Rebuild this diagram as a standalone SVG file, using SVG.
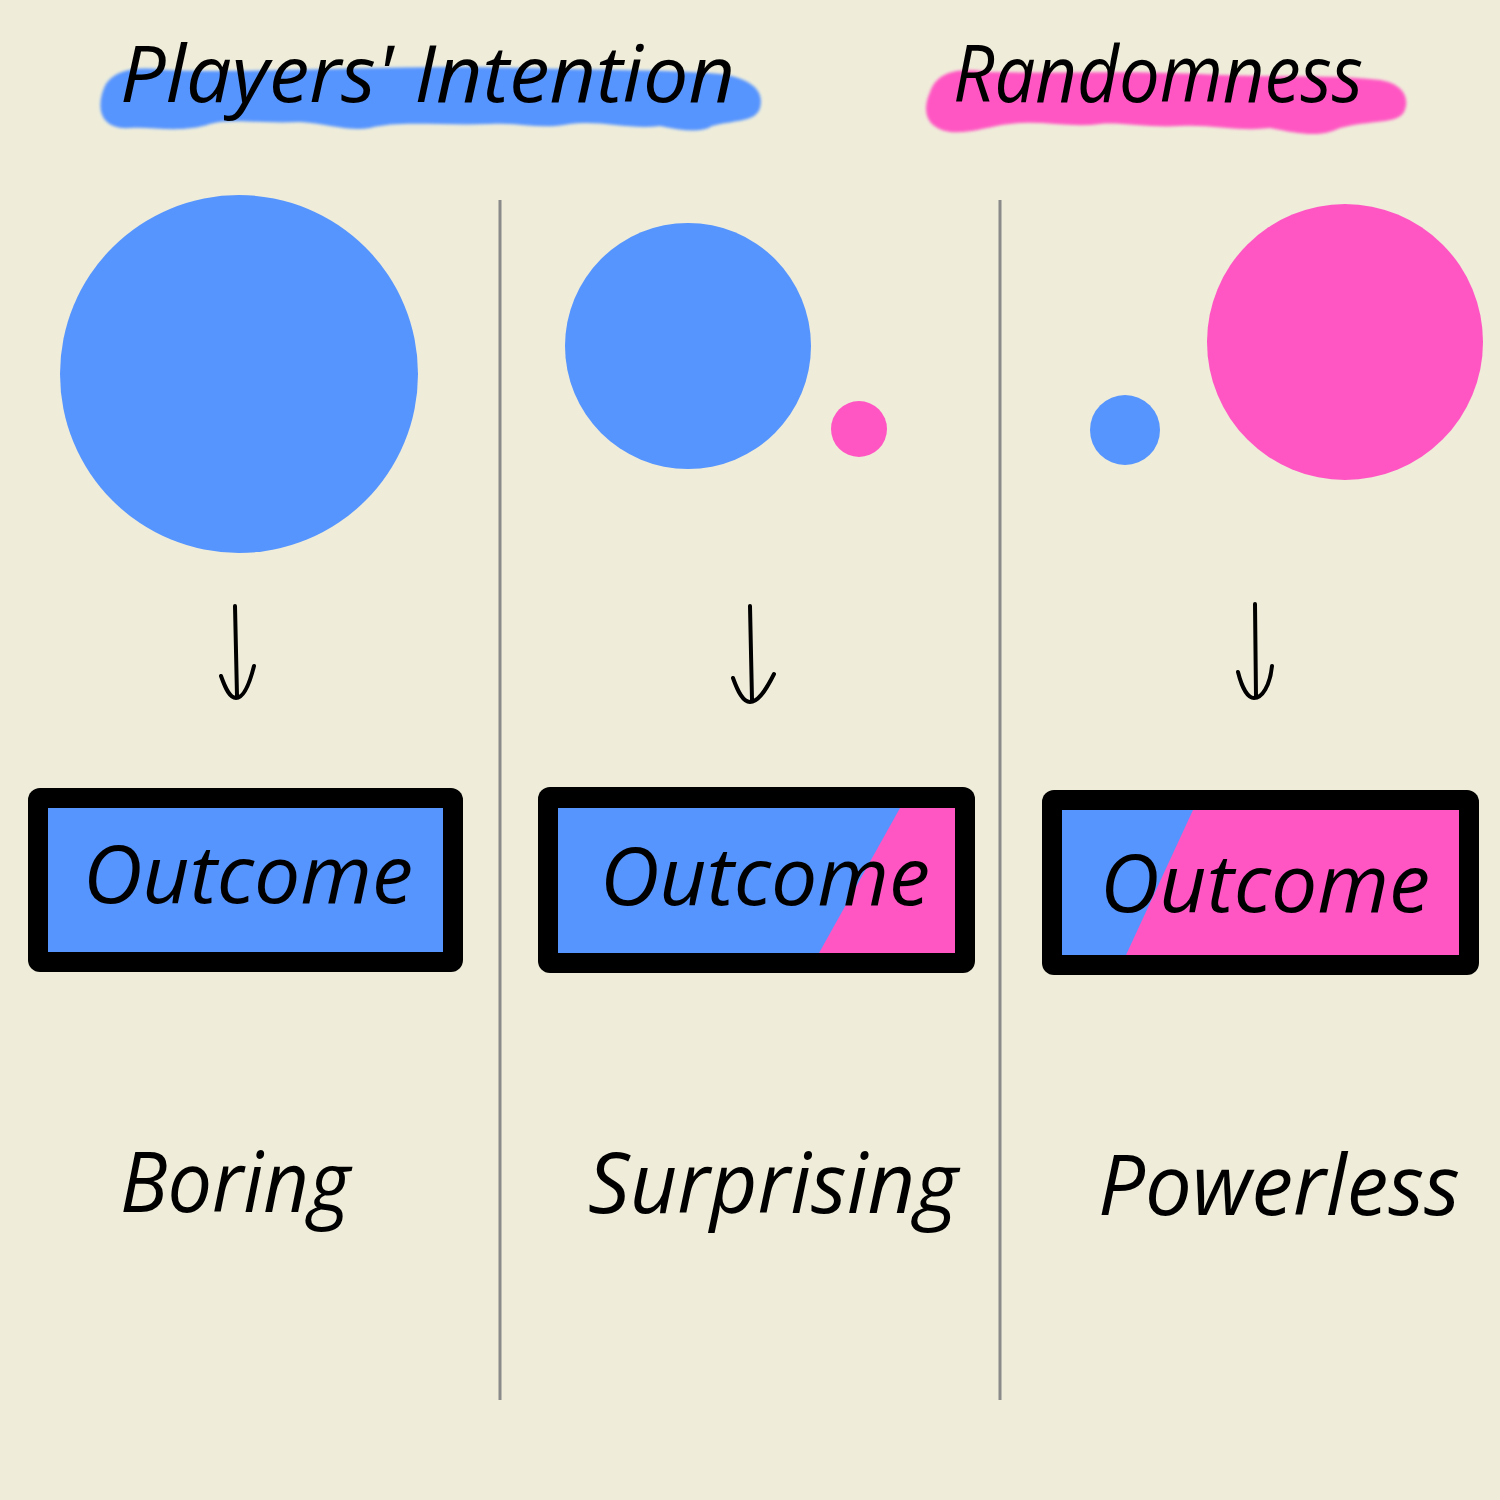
<svg xmlns="http://www.w3.org/2000/svg" width="1500" height="1500" viewBox="0 0 1500 1500">
<style>
.t{font-family:"Open Sans","DejaVu Sans",sans-serif;font-style:italic;fill:#000}
.blue{fill:#5694FE}
.pink{fill:#FF56C3}
.div{stroke:#8a8a8a;stroke-width:3;fill:none}
.arr{stroke:#000;stroke-width:4;fill:none;stroke-linecap:round;stroke-linejoin:round}
</style>
<defs>
<filter id="soft" x="-5%" y="-20%" width="110%" height="140%"><feGaussianBlur stdDeviation="1.5"/></filter>
</defs>
<rect width="1500" height="1500" fill="#EFEDDA"/>
<g id="heading-intention">
<path class="blue" filter="url(#soft)" d="M104,88 C112,70 135,66 165,70 C260,74 400,64 520,68 C600,70 680,70 720,74 C750,78 765,90 760,108 C756,122 735,120 712,126 C700,134 680,130 660,126 C630,130 600,120 570,124 C540,130 520,122 490,124 C440,126 400,120 370,128 C350,132 330,124 300,122 C260,124 230,118 210,124 C180,134 150,126 130,128 C100,130 96,108 104,88 Z"/>
<text class="t" x="120" y="102" font-size="78" textLength="615" lengthAdjust="spacingAndGlyphs">Players' Intention</text>
</g>
<g id="heading-randomness">
<path class="pink" filter="url(#soft)" d="M930,92 C938,70 960,68 990,72 C1060,74 1120,70 1200,74 C1270,78 1330,74 1380,80 C1405,84 1410,100 1404,112 C1398,124 1370,120 1340,128 C1320,138 1300,134 1270,128 C1240,132 1210,124 1180,126 C1150,128 1120,122 1100,124 C1070,128 1040,120 1010,124 C990,126 970,134 950,132 C925,128 922,110 930,92 Z"/>
<text class="t" x="953" y="102" font-size="78" textLength="410" lengthAdjust="spacingAndGlyphs">Randomness</text>
</g>
<g id="dividers">
<line class="div" x1="500" y1="200" x2="500" y2="1400"/>
<line class="div" x1="1000" y1="200" x2="1000" y2="1400"/>
</g>
<g id="circles-boring">
<circle class="blue" cx="239" cy="374" r="179"/>
</g>
<g id="circles-surprising">
<circle class="blue" cx="688" cy="346" r="123"/>
<circle class="pink" cx="859" cy="429" r="28"/>
</g>
<g id="circles-powerless">
<circle class="blue" cx="1125" cy="430" r="35"/>
<circle class="pink" cx="1345" cy="342" r="138"/>
</g>
<g id="connectors">
<path class="arr" d="M235,606 L237,696 M221,676 C226,690 230,698 236,698 C242,698 248,690 254,666"/>
<path class="arr" d="M750,606 L752,700 M733,678 C738,692 743,702 750,702 C757,702 764,694 774,674"/>
<path class="arr" d="M1255,604 L1256,697 M1238,672 C1242,688 1248,698 1254,698 C1262,698 1270,686 1272,666"/>
</g>
<g id="outcome-boring">
<rect x="28" y="788" width="435" height="184" rx="12" fill="#000"/>
<rect class="blue" x="48" y="808" width="395" height="144"/>
<text class="t" x="83" y="903" font-size="80" textLength="330" lengthAdjust="spacingAndGlyphs">Outcome</text>
</g>
<g id="outcome-surprising">
<rect x="538" y="787" width="437" height="186" rx="12" fill="#000"/>
<rect class="blue" x="558" y="808" width="397" height="145"/>
<polygon class="pink" points="900,808 955,808 955,953 819,953"/>
<text class="t" x="600" y="905" font-size="80" textLength="330" lengthAdjust="spacingAndGlyphs">Outcome</text>
</g>
<g id="outcome-powerless">
<rect x="1042" y="790" width="437" height="185" rx="12" fill="#000"/>
<rect class="blue" x="1062" y="810" width="397" height="145"/>
<polygon class="pink" points="1193,810 1459,810 1459,955 1126,955"/>
<text class="t" x="1100" y="912" font-size="80" textLength="330" lengthAdjust="spacingAndGlyphs">Outcome</text>
</g>
<g id="label-boring">
<text class="t" x="120" y="1212" font-size="84" textLength="230" lengthAdjust="spacingAndGlyphs">Boring</text>
</g>
<g id="label-surprising">
<text class="t" x="588" y="1213" font-size="84" textLength="370" lengthAdjust="spacingAndGlyphs">Surprising</text>
</g>
<g id="label-powerless">
<text class="t" x="1098" y="1215" font-size="84" textLength="362" lengthAdjust="spacingAndGlyphs">Powerless</text>
</g>
</svg>
